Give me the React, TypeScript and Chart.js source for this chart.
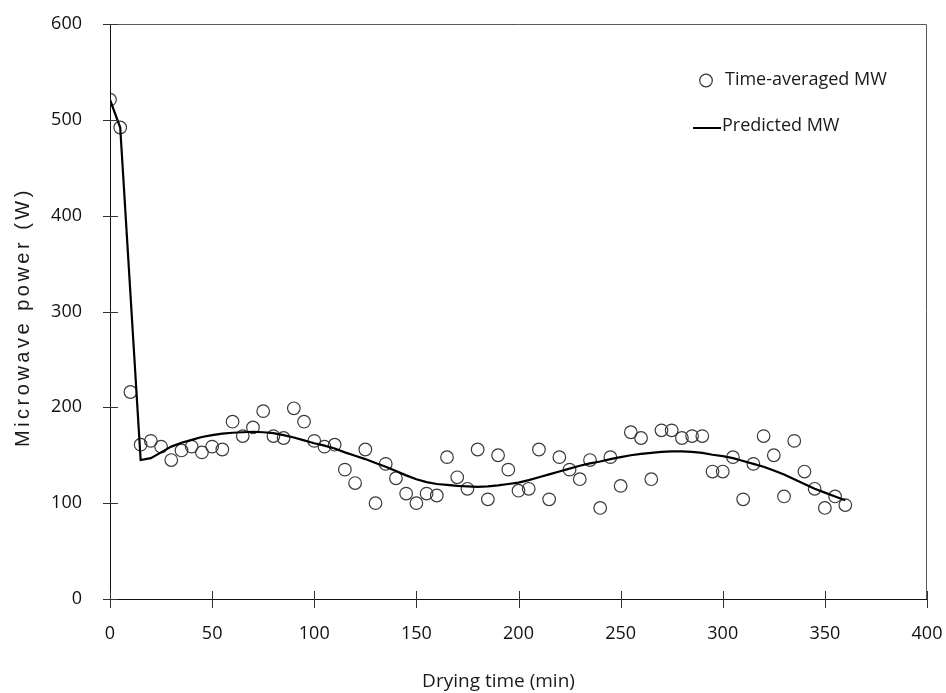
import React, { useEffect, useRef } from "react";
import { Chart, registerables } from "chart.js";

Chart.register(...registerables);

// Observed time-averaged microwave power (every 5 min)
const obsTime = [
  0, 5, 10, 15, 20, 25, 30, 35, 40, 45, 50, 55, 60, 65, 70, 75, 80, 85, 90, 95,
  100, 105, 110, 115, 120, 125, 130, 135, 140, 145, 150, 155, 160, 165, 170, 175,
  180, 185, 190, 195, 200, 205, 210, 215, 220, 225, 230, 235, 240, 245, 250, 255,
  260, 265, 270, 275, 280, 285, 290, 295, 300, 305, 310, 315, 320, 325, 330, 335,
  340, 345, 350, 355, 360,
];
const obsPower = [
  521, 492, 216, 161, 165, 159, 145, 155, 159, 153, 159, 156, 185, 170, 179, 196,
  170, 168, 199, 185, 165, 159, 161, 135, 121, 156, 100, 141, 126, 110, 100, 110,
  108, 148, 127, 115, 156, 104, 150, 135, 113, 115, 156, 104, 148, 135, 125, 145,
  95, 148, 118, 174, 168, 125, 176, 176, 168, 170, 170, 133, 133, 148, 104, 141,
  170, 150, 107, 165, 133, 115, 95, 107, 98,
];

// Predicted microwave power
const predTime = [
  0, 5, 15, 20, 25, 30, 35, 40, 45, 50, 55, 60, 65, 70, 75, 80, 85, 90, 95, 100,
  105, 110, 115, 120, 125, 130, 135, 140, 145, 150, 155, 160, 165, 170, 175, 180,
  185, 190, 195, 200, 205, 210, 215, 220, 225, 230, 235, 240, 245, 250, 255, 260,
  265, 270, 275, 280, 285, 290, 295, 300, 305, 310, 315, 320, 325, 330, 335, 340,
  345, 350, 355, 360,
];
const predPower = [
  521, 492, 145, 147, 153, 159, 163, 166, 169, 171, 172.5, 173.5, 174, 174.5, 174,
  173, 171, 168.5, 165.5, 162.5, 160, 157, 153, 149.5, 146, 142, 138, 133.5, 129,
  125, 122, 120, 119, 118, 117.5, 117, 117.5, 118.5, 120, 121.5, 124, 127, 130, 133,
  136, 139, 141.5, 143.5, 146, 148, 150, 151.5, 152.5, 153.5, 154, 154, 153.5, 152.5,
  150.5, 149, 147, 144, 141, 138, 134, 130, 125, 120, 115, 111, 107, 103,
];

const xTickValues = [0, 50, 100, 150, 200, 250, 300, 350, 400];
const yTickValues = [0, 100, 200, 300, 400, 500, 600];

const xTitle = "Drying time (min)";
const yTitle = "Microwave power (W)";
const legendObs = "Time-averaged MW";
const legendPred = "Predicted MW";

const tickFont = "'Open Sans', 'DejaVu Sans', sans-serif";

const framePlugin = {
  id: "framePlugin",
  afterDraw(chart: any) {
    const ctx = chart.ctx;
    const { left, right, top, bottom } = chart.chartArea;
    const xs = chart.scales.x;
    const ys = chart.scales.y;
    ctx.save();
    // top & right border (gray)
    ctx.strokeStyle = "#5a5a5a";
    ctx.lineWidth = 1;
    ctx.beginPath();
    ctx.moveTo(left, top + 0.5);
    ctx.lineTo(right - 0.5, top + 0.5);
    ctx.lineTo(right - 0.5, bottom);
    ctx.stroke();
    // axes (black)
    ctx.strokeStyle = "#111";
    ctx.beginPath();
    ctx.moveTo(left + 0.5, top);
    ctx.lineTo(left + 0.5, bottom);
    ctx.moveTo(left, bottom + 0.5);
    ctx.lineTo(right, bottom + 0.5);
    ctx.stroke();
    // crossing tick marks
    ctx.strokeStyle = "#333";
    ctx.beginPath();
    xs.ticks.forEach((t: any) => {
      const px = Math.round(xs.getPixelForValue(t.value)) + 0.5;
      ctx.moveTo(px, bottom - 8);
      ctx.lineTo(px, bottom + 9);
    });
    ys.ticks.forEach((t: any) => {
      const py = Math.round(ys.getPixelForValue(t.value)) + 0.5;
      ctx.moveTo(left - 7, py);
      ctx.lineTo(left + 8, py);
    });
    ctx.stroke();

    // axis titles
    ctx.fillStyle = "#1a1a1a";
    ctx.font = `19px ${tickFont}`;
    ctx.textAlign = "center";
    ctx.textBaseline = "alphabetic";
    ctx.fillText(xTitle, (left + right) / 2 - 20, 687);

    ctx.save();
    ctx.translate(28.5, 447);
    ctx.rotate(-Math.PI / 2);
    ctx.font = "20px 'Liberation Sans', Arial, sans-serif";
    (ctx as any).letterSpacing = "3.5px";
    ctx.textAlign = "left";
    ctx.fillText(yTitle, 0, 0);
    ctx.restore();

    // legend
    const lx = right - 221;
    ctx.strokeStyle = "#333";
    ctx.lineWidth = 1.2;
    ctx.beginPath();
    ctx.arc(lx, top + 56.5, 6.3, 0, Math.PI * 2);
    ctx.stroke();
    ctx.strokeStyle = "#000";
    ctx.lineWidth = 2;
    ctx.beginPath();
    ctx.moveTo(lx - 13, top + 104);
    ctx.lineTo(lx + 15, top + 104);
    ctx.stroke();
    ctx.fillStyle = "#1a1a1a";
    ctx.font = `18px ${tickFont}`;
    ctx.textAlign = "left";
    ctx.textBaseline = "middle";
    ctx.fillText(legendObs, lx + 19, top + 56);
    ctx.fillText(legendPred, lx + 16, top + 102);
    ctx.restore();
  },
};

export default function App() {
  const canvasRef = useRef<HTMLCanvasElement | null>(null);

  useEffect(() => {
    if (!canvasRef.current) return;
    const chart = new Chart(canvasRef.current, {
      type: "scatter",
      data: {
        datasets: [
          {
            type: "line",
            label: legendPred,
            data: predTime.map((t, i) => ({ x: t, y: predPower[i] })),
            borderColor: "#000",
            borderWidth: 2.2,
            pointRadius: 0,
            tension: 0,
            fill: false,
            order: 0,
          } as any,
          {
            type: "scatter",
            label: legendObs,
            data: obsTime.map((t, i) => ({ x: t, y: obsPower[i] })),
            pointRadius: 6.3,
            pointBorderWidth: 1.2,
            pointBorderColor: "#3a3a3a",
            pointBackgroundColor: "rgba(255,255,255,0)",
            showLine: false,
            order: 1,
          } as any,
        ],
      },
      options: {
        animation: false,
        responsive: true,
        maintainAspectRatio: false,
        devicePixelRatio: 1,
        events: [],
        layout: { padding: { left: 0, right: 19, top: 24, bottom: 0 } },
        plugins: {
          legend: { display: false },
          tooltip: { enabled: false },
          title: { display: false },
        },
        scales: {
          x: {
            type: "linear",
            min: 0,
            max: 400,
            afterBuildTicks: (s: any) => {
              s.ticks = xTickValues.map((v) => ({ value: v }));
            },
            afterFit: (s: any) => {
              s.height = 94;
              s.paddingLeft = 0;
              s.paddingRight = 0;
            },
            grid: { display: false, drawTicks: false },
            border: { display: false },
            ticks: {
              padding: 24,
              color: "#111",
              font: { family: tickFont, size: 18 },
              maxRotation: 0,
            },
          },
          y: {
            type: "linear",
            min: 0,
            max: 600,
            afterBuildTicks: (s: any) => {
              s.ticks = yTickValues.map((v) => ({ value: v }));
            },
            afterFit: (s: any) => {
              s.width = 110;
              s.paddingTop = 0;
              s.paddingBottom = 0;
            },
            grid: { display: false, drawTicks: false },
            border: { display: false },
            ticks: {
              padding: 28,
              color: "#111",
              font: { family: tickFont, size: 18 },
            },
          },
        },
      },
      plugins: [framePlugin],
    });
    return () => chart.destroy();
  }, []);

  return (
    <div
      style={{
        position: "fixed",
        left: 0,
        top: 0,
        width: 946,
        height: 693,
        background: "#fff",
      }}
    >
      <canvas ref={canvasRef} />
    </div>
  );
}
